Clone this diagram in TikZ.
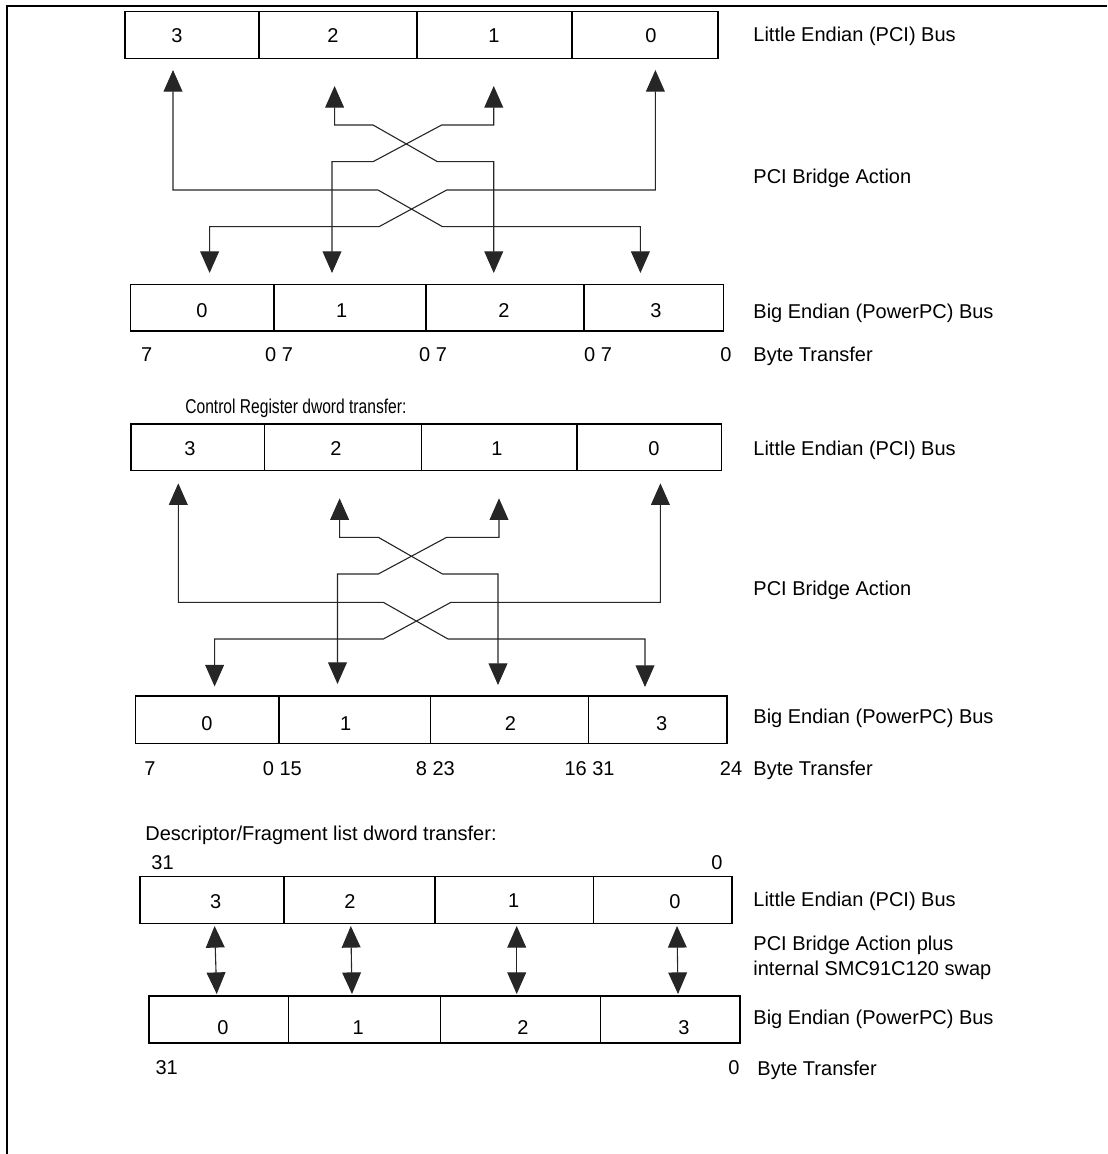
\documentclass[tikz,border=0pt]{standalone}
\usepackage{fontspec}
\setmainfont{Liberation Sans}
\usetikzlibrary{arrows.meta,fit}
\begin{document}
\begin{tikzpicture}[x=0.5pt,y=-0.5pt,
  cellbox/.style={draw=black, line width=0.55pt, inner sep=0pt},
  num/.style={inner sep=0pt, anchor=base, font=\fontsize{10pt}{12pt}\selectfont},
  lbl/.style={inner sep=0pt, anchor=base west, font=\fontsize{10pt}{12pt}\selectfont},
  conn/.style={line width=0.55pt, draw=black!85,
    {Triangle[width=9.4pt,length=10.8pt]}-{Triangle[width=9.4pt,length=10.8pt]}},
  frameline/.style={line width=1.4pt, draw=black}]
\useasboundingbox (0,0) rectangle (1107,1154);
\draw[frameline] (1107,6) -- (7,6) -- (7,1154);

% ================= Section 1 =================
\node[cellbox, fit={(125,11.5) (259,58.5)}] (a1c3) {};
\node[cellbox, fit={(259,11.5) (417,58.5)}] (a1c2) {};
\node[cellbox, fit={(417,11.5) (572,58.5)}] (a1c1) {};
\node[cellbox, fit={(572,11.5) (718,58.5)}] (a1c0) {};
\node[num] (a1t3) at (177,43) {3};
\node[num] (a1t2) at (333,43) {2};
\node[num] (a1t1) at (494,43) {1};
\node[num] (a1t0) at (651,43) {0};

\node[cellbox, fit={(130.5,284.5) (274,331)}] (b1c0) {};
\node[cellbox, fit={(274,284.5) (426,331)}] (b1c1) {};
\node[cellbox, fit={(426,284.5) (584,331)}] (b1c2) {};
\node[cellbox, fit={(584,284.5) (723.5,331)}] (b1c3) {};
\node[num] (b1t0) at (202,318) {0};
\node[num] (b1t1) at (341.7,318) {1};
\node[num] (b1t2) at (504,318) {2};
\node[num] (b1t3) at (656,318) {3};

\node[num] (n1a) at (146.7,362) {7};
\node[num] (n1b) at (279,362) {0 7};
\node[num] (n1c) at (433,362) {0 7};
\node[num] (n1d) at (598,362) {0 7};
\node[num] (n1e) at (726,362) {0};

\node[lbl] (l1a) at (753,42) {Little Endian (PCI) Bus};
\node[lbl] (l1b) at (753,184) {PCI Bridge Action};
\node[lbl] (l1c) at (753,319) {Big Endian (PowerPC) Bus};
\node[lbl] (l1d) at (753,362) {Byte Transfer};

\coordinate (s1u3) at (173,70);
\coordinate (s1u2) at (334.6,86);
\coordinate (s1u1) at (493.75,86);
\coordinate (s1u0) at (655.4,70);
\coordinate (s1d0) at (209.6,273);
\coordinate (s1d1) at (332,273);
\coordinate (s1d2) at (493.75,273);
\coordinate (s1d3) at (640.4,273);

\draw[conn] (s1u3) -- (173,190) -- (378,190) -- (442.5,226.7) -- (640.4,226.7) -- (s1d3);
\draw[conn] (s1u0) -- (655.4,190) -- (446.7,190) -- (379,226.7) -- (209.6,226.7) -- (s1d0);
\draw[conn] (s1u2) -- (334.6,125) -- (373,125) -- (437.5,161.7) -- (493.75,161.7) -- (s1d2);
\draw[conn] (s1u1) -- (493.75,125) -- (441.7,125) -- (373,161.7) -- (332,161.7) -- (s1d1);

% ================= Section 2 =================
\node[lbl, xscale=0.78, transform shape] (h2) at (185,414) {Control Register dword transfer:};

\node[cellbox, fit={(131,424) (264.6,470.5)}] (a2c3) {};
\node[cellbox, fit={(264.6,424) (421.7,470.5)}] (a2c2) {};
\node[cellbox, fit={(421.7,424) (577,470.5)}] (a2c1) {};
\node[cellbox, fit={(577,424) (721.5,470.5)}] (a2c0) {};
\node[num] (a2t3) at (190,455) {3};
\node[num] (a2t2) at (336,455) {2};
\node[num] (a2t1) at (497,455) {1};
\node[num] (a2t0) at (654,455) {0};

\node[cellbox, fit={(135.5,696) (279,743.3)}] (b2c0) {};
\node[cellbox, fit={(279,696) (430.4,743.3)}] (b2c1) {};
\node[cellbox, fit={(430.4,696) (588.75,743.3)}] (b2c2) {};
\node[cellbox, fit={(588.75,696) (727,743.3)}] (b2c3) {};
\node[num] (b2t0) at (207,730) {0};
\node[num] (b2t1) at (345.8,730) {1};
\node[num] (b2t2) at (510.4,730) {2};
\node[num] (b2t3) at (661.7,730) {3};

\node[num] (n2a) at (150,775) {7};
\node[num] (n2b) at (282.3,775) {0 15};
\node[num] (n2c) at (435.4,775) {8 23};
\node[num] (n2d) at (589.6,775) {16 31};
\node[num] (n2e) at (731,775) {24};

\node[lbl] (l2a) at (753,455) {Little Endian (PCI) Bus};
\node[lbl] (l2b) at (753,595) {PCI Bridge Action};
\node[lbl] (l2c) at (753,723) {Big Endian (PowerPC) Bus};
\node[lbl] (l2d) at (753,775) {Byte Transfer};

\coordinate (s2u3) at (178.3,483.3);
\coordinate (s2u2) at (339.6,498.3);
\coordinate (s2u1) at (499,498.3);
\coordinate (s2u0) at (660.4,483.3);
\coordinate (s2d0) at (214.6,686.5);
\coordinate (s2d1) at (337.5,684);
\coordinate (s2d2) at (498,685);
\coordinate (s2d3) at (645,687);

\draw[conn] (s2u3) -- (178.3,602.3) -- (383.3,602.3) -- (448,639) -- (645,639) -- (s2d3);
\draw[conn] (s2u0) -- (660.4,602.3) -- (451,602.3) -- (383.3,639) -- (214.6,639) -- (s2d0);
\draw[conn] (s2u2) -- (339.6,537.3) -- (378.3,537.3) -- (442.5,574) -- (498,574) -- (s2d2);
\draw[conn] (s2u1) -- (499,537.3) -- (446.7,537.3) -- (378.3,574) -- (337.5,574) -- (s2d1);

% ================= Section 3 =================
\node[lbl] (h3) at (145,840) {Descriptor/Fragment list dword transfer:};
\node[num] (n3a) at (162.5,869) {31};
\node[num] (n3b) at (717,869) {0};

\node[cellbox, fit={(140,876.7) (284,923.3)}] (a3c3) {};
\node[cellbox, fit={(284,876.7) (435,923.3)}] (a3c2) {};
\node[cellbox, fit={(435,876.7) (593.3,923.3)}] (a3c1) {};
\node[cellbox, fit={(593.3,876.7) (732,923.3)}] (a3c0) {};
\node[num] (a3t3) at (215.8,908.5) {3};
\node[num] (a3t2) at (350,908.5) {2};
\node[num] (a3t1) at (513.75,907) {1};
\node[num] (a3t0) at (675,908.5) {0};

\node[cellbox, fit={(149,996) (288.3,1043)}] (b3c0) {};
\node[cellbox, fit={(288.3,996) (440.4,1043)}] (b3c1) {};
\node[cellbox, fit={(440.4,996) (600.8,1043)}] (b3c2) {};
\node[cellbox, fit={(600.8,996) (740,1043)}] (b3c3) {};
\node[num] (b3t0) at (223,1034) {0};
\node[num] (b3t1) at (358.3,1034) {1};
\node[num] (b3t2) at (523,1034) {2};
\node[num] (b3t3) at (684,1034) {3};

\node[num] (n3c) at (166.7,1074) {31};
\node[num] (n3d) at (734,1074) {0};

\node[lbl] (l3a) at (753,906) {Little Endian (PCI) Bus};
\node[inner sep=0pt, anchor=west, align=left, font=\fontsize{10pt}{12.5pt}\selectfont] (l3b) at (753,958) {PCI Bridge Action plus\\internal SMC91C120 swap};
\node[lbl] (l3c) at (753,1024) {Big Endian (PowerPC) Bus};
\node[lbl] (l3d) at (757,1075) {Byte Transfer};

\coordinate (s3u3) at (214.6,926);
\coordinate (s3u2) at (350.8,926);
\coordinate (s3u1) at (516.7,926);
\coordinate (s3u0) at (677,926);
\coordinate (s3d0) at (216.7,994);
\coordinate (s3d1) at (352,994);
\coordinate (s3d2) at (516.7,994);
\coordinate (s3d3) at (678,994);
\draw[conn] (s3u3) -- (s3d0);
\draw[conn] (s3u2) -- (s3d1);
\draw[conn] (s3u1) -- (s3d2);
\draw[conn] (s3u0) -- (s3d3);
\end{tikzpicture}
\end{document}
